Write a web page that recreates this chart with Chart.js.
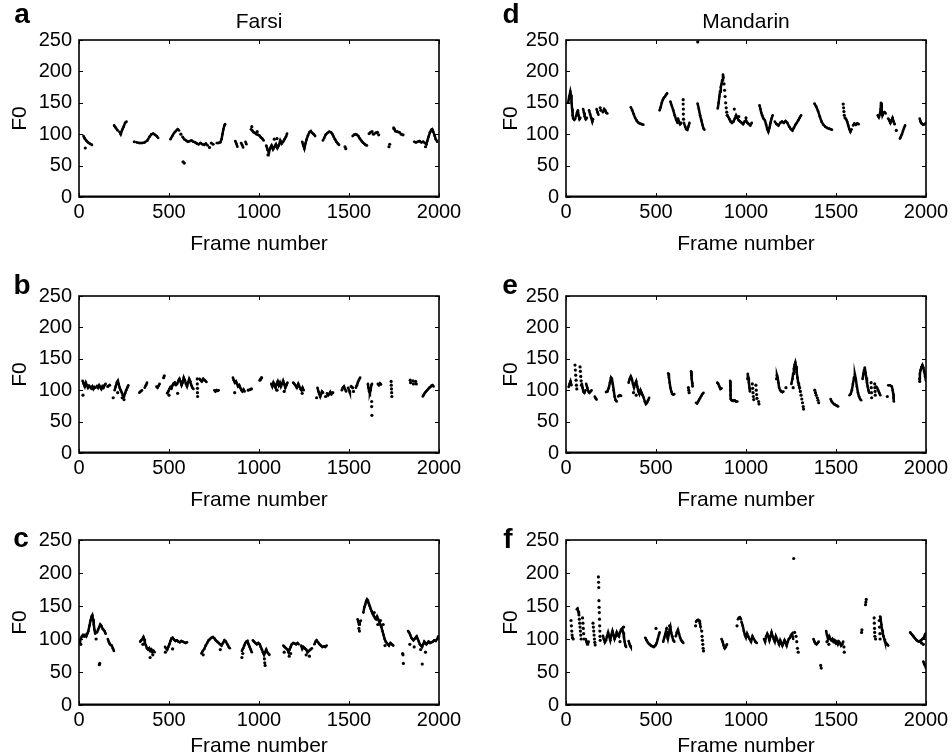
<!DOCTYPE html>
<html>
<head>
<meta charset="utf-8">
<script src="https://cdn.jsdelivr.net/npm/chart.js@4.4.1/dist/chart.umd.min.js"></script>
<style>
  body { margin: 0; background: #fff; }
  #fig { position: relative; width: 952px; height: 755px; overflow: hidden; background: #fff;
         font-family: "Liberation Sans", Arial, sans-serif; color: #000; }
  .panel { position: absolute; }
  .letter { position: absolute; font-weight: bold; font-size: 28px; line-height: 1; transform: translateX(-50%); }
  .lang { position: absolute; font-size: 21px; line-height: 1; transform: translateX(-50%); }
</style>
</head>
<body>
<div id="fig"></div>
<script>
// F0 tracks: each inner list is one voiced stretch [frame, F0]
const xTicks = [0, 500, 1000, 1500, 2000];
const yTicks = [0, 50, 100, 150, 200, 250];
const unvoicedFrames = [0, 2000]; // frames with F0 = 0 run along the bottom

const farsiATracks = [
  [[25,97],[32,93],[40,90],[50,87],[60,85],[72,83]],
  [[195,114],[205,110],[215,106]],
  [[225,104],[232,100],[240,107],[248,112],[256,118],[264,120]],
  [[320,87],[335,86],[350,86],[365,87],[380,90],[392,96],[402,100],[412,101],[422,99],[432,97],[440,94]],
  [[508,92],[518,97],[528,102],[538,105],[548,108],[556,106]],
  [[575,96],[585,92],[595,90],[605,88],[615,89],[625,90],[635,88],[645,87],[655,85],[665,84],[675,86],[685,84],[695,83],[705,85],[715,82]],
  [[765,86],[775,86],[785,87],[792,92],[797,100],[802,108],[808,114],[812,116]],
  [[868,89],[874,85],[880,80]],
  [[900,86],[906,83],[912,79]],
  [[925,88],[930,84]],
  [[955,108],[962,106],[970,103],[978,102],[986,100],[994,99],[1002,98],[1010,95],[1018,93],[1026,90]],
  [[1040,82],[1048,75],[1055,70],[1062,78],[1070,82],[1078,76],[1086,80],[1094,84],[1102,78],[1110,82],[1118,90],[1126,85],[1134,88],[1142,92],[1150,96],[1156,101]],
  [[1240,88],[1246,82],[1252,77],[1258,85],[1265,92],[1272,98],[1280,103],[1288,105],[1296,102],[1304,100],[1312,97]],
  [[1355,90],[1362,94],[1370,99],[1380,102],[1390,104],[1400,103],[1408,100],[1415,96],[1422,92],[1430,88],[1438,85],[1445,83]],
  [[1520,97],[1528,99],[1536,100],[1544,99],[1552,97],[1560,93],[1568,90],[1576,87],[1584,85],[1592,83],[1600,82]],
  [[1862,88],[1872,87],[1882,88],[1892,89],[1902,87],[1912,88],[1922,86],[1930,84],[1936,90],[1942,96],[1950,103],[1957,107],[1962,108],[1968,104],[1975,98],[1982,92],[1990,88]]
];
const farsiADots = [[35,78],[307,88],[566,100],[578,56],[585,54],[725,79],[735,86],[745,84],[960,112],[990,104],[1050,67],[1100,93],[1085,92],[1478,80],[1482,77],[1612,101],[1620,103],[1628,104],[1636,100],[1648,102],[1658,103],[1665,99],[1722,80],[1726,84],[1748,110],[1752,108],[1758,105],[1768,104],[1780,103],[1790,100],[1800,99],[1925,80]];

const farsiBTracks = [
  [[20,115],[26,110],[32,106],[38,112],[44,108],[50,104],[56,107],[62,105],[68,103],[74,106],[80,102],[86,105],[92,104]],
  [[100,107],[106,104],[112,108],[118,105],[124,102],[130,106],[136,104],[142,108],[148,110]],
  [[198,100],[204,106],[210,112],[216,115],[220,110],[226,104],[232,100],[238,96],[244,92],[250,90],[256,95],[262,100],[268,104],[274,108]],
  [[335,96],[342,98],[350,100]],
  [[365,104],[372,108],[378,112]],
  [[430,106],[436,104],[442,107],[448,110]],
  [[490,95],[496,98],[502,102],[508,105],[514,103],[520,108],[526,111],[532,112],[538,108]],
  [[545,110],[552,115],[558,118],[564,114],[570,108],[576,112],[582,120],[588,116],[594,110],[600,106],[606,112],[612,118],[618,114],[624,108],[630,104],[636,102]],
  [[670,118],[676,116],[682,114],[690,118],[696,116],[702,115],[708,113]],
  [[752,100],[758,98],[764,100],[770,99],[776,100]],
  [[855,120],[860,116],[866,112],[872,114],[878,110],[884,106],[890,108],[896,104],[902,100],[908,98],[914,101],[920,98]],
  [[1068,110],[1074,106],[1080,112],[1086,108],[1092,104],[1098,110],[1104,114],[1110,108],[1116,112],[1122,106],[1128,110],[1134,115],[1140,110],[1146,104],[1152,108],[1158,112]],
  [[1190,112],[1196,110],[1202,108],[1210,104],[1218,110],[1224,106],[1230,102],[1236,100],[1242,104],[1248,100]],
  [[1325,104],[1330,98],[1335,94],[1340,90],[1345,94],[1350,98],[1356,96]],
  [[1378,95],[1384,92],[1390,94],[1396,97],[1402,93]],
  [[1460,100],[1466,104],[1472,106],[1478,102],[1484,98]],
  [[1495,104],[1500,100],[1505,96]],
  [[1538,104],[1544,108],[1550,113],[1556,117],[1562,120]],
  [[1605,110],[1608,104],[1612,98],[1616,96],[1620,100],[1624,108],[1628,110]],
  [[1660,110],[1666,108],[1672,111],[1678,109]],
  [[1910,90],[1916,93],[1922,96],[1928,98],[1934,100],[1940,102],[1946,104],[1952,105],[1958,107],[1964,108],[1970,106]]
];
const farsiBDots = [[22,92],[160,106],[170,108],[190,88],[215,96],[240,88],[250,85],[470,120],[474,123],[500,92],[548,95],[657,118],[657,110],[658,103],[658,96],[659,90],[865,96],[940,100],[950,101],[958,102],[1005,116],[1010,118],[1014,120],[1100,100],[1140,98],[1240,95],[1320,88],[1370,90],[1410,96],[1512,106],[1520,104],[1525,98],[1626,82],[1626,74],[1627,60],[1734,114],[1735,108],[1736,102],[1737,96],[1738,90],[1840,116],[1842,112],[1855,115],[1858,110],[1870,114],[1874,110]];

const farsiCTracks = [
  [[5,95],[10,100],[16,104],[22,106],[28,104],[34,106],[40,104],[46,108],[52,112],[58,120],[64,128],[70,134],[74,136],[78,130],[82,122],[86,114],[90,108]],
  [[100,110],[106,114],[112,118],[118,122],[124,120],[130,116],[136,114],[142,112],[148,108]],
  [[160,100],[165,96],[170,93],[176,91],[182,90],[188,86],[194,82]],
  [[340,96],[346,98],[352,100],[358,103],[362,100],[366,94],[372,90],[378,86],[384,84],[390,86],[396,82],[402,84],[408,80],[414,82],[420,80]],
  [[478,88],[484,86],[490,84],[496,88],[502,92],[508,97],[514,101],[520,102],[528,99],[536,97],[544,98],[552,96],[560,95],[568,97],[576,96],[584,95],[592,94],[600,95]],
  [[680,78],[688,82],[696,85],[704,90],[712,94],[720,98],[728,100],[736,102],[744,103],[752,101],[760,98],[768,96],[776,94],[784,92],[792,90],[800,94],[808,98],[816,96],[824,92],[832,88],[838,86]],
  [[905,82],[912,86],[918,90],[924,94],[930,96],[936,97],[942,92],[948,88],[954,84],[960,80]],
  [[966,98],[972,96],[980,94],[988,92],[996,94],[1004,92],[1010,88],[1016,84],[1022,80],[1028,76],[1034,80],[1040,84],[1046,80],[1052,78],[1058,76]],
  [[1135,90],[1142,88],[1150,86],[1158,84],[1164,80],[1170,84],[1176,88],[1182,92],[1190,94],[1198,93],[1206,92],[1214,94],[1220,92]],
  [[1234,90],[1240,85],[1246,88],[1254,86],[1262,84],[1270,80],[1278,82],[1286,84],[1294,86]],
  [[1308,92],[1314,96],[1320,98],[1328,95],[1336,92],[1344,90],[1352,88],[1360,89],[1368,88],[1376,90]],
  [[1548,130],[1552,126],[1556,122],[1560,126],[1566,128]],
  [[1580,140],[1585,148],[1590,152],[1595,157],[1600,160],[1605,158],[1610,154],[1615,150],[1620,146],[1626,142],[1632,138],[1638,135],[1644,132],[1650,130],[1656,134],[1662,130],[1668,126],[1674,122],[1680,118],[1686,112],[1692,106],[1698,100],[1704,96],[1710,94],[1716,92],[1722,90],[1730,94],[1738,92],[1746,90]],
  [[1828,112],[1834,110],[1840,106],[1846,102],[1852,100],[1858,98],[1864,100],[1870,102],[1876,104],[1882,100],[1888,96],[1894,92],[1900,90],[1906,88],[1912,92],[1918,96],[1924,94],[1930,92],[1936,94],[1942,96],[1950,94],[1958,95],[1966,96],[1974,98],[1982,97],[1990,100],[1996,104]]
];
const farsiCDots = [[10,92],[95,100],[113,61],[115,63],[355,92],[395,72],[410,76],[480,80],[520,85],[690,76],[785,84],[905,72],[910,78],[1030,70],[1032,64],[1034,60],[1140,80],[1168,74],[1176,78],[1262,76],[1280,74],[1555,116],[1558,112],[1640,140],[1660,122],[1675,128],[1690,122],[1700,90],[1798,78],[1800,76],[1802,63],[1838,92],[1862,88],[1898,84],[1907,62],[1925,80]];

const mandarinATracks = [
  [[12,150],[18,160],[24,168],[28,162],[31,150],[34,140],[37,130],[40,125],[46,123],[52,125]],
  [[55,128],[62,135],[66,138],[70,130],[75,124],[80,126]],
  [[95,140],[100,134],[104,128],[110,124],[116,126]],
  [[128,138],[134,132],[140,126],[146,120],[150,124]],
  [[170,140],[175,135],[180,131]],
  [[205,135],[212,140],[218,138],[224,134],[230,133]],
  [[360,143],[368,138],[376,132],[384,126],[392,122],[400,119],[410,117],[420,116],[430,115]],
  [[520,138],[526,143],[532,150],[538,155],[544,158],[550,160],[556,163],[562,165]],
  [[580,152],[588,145],[596,138],[604,130],[612,123],[620,118]],
  [[622,125],[628,120],[634,116],[640,118]],
  [[655,118],[662,112],[668,108],[674,107],[680,112],[686,118]],
  [[731,149],[738,140],[745,130],[752,122],[758,115],[764,109],[769,107]],
  [[843,141],[848,150],[852,160],[856,168],[860,175],[864,180],[868,186],[872,195],[875,190]],
  [[900,128],[908,124],[915,120],[922,118],[930,120],[938,125],[945,130],[952,126],[960,122],[968,120],[976,118],[984,116],[992,120],[1000,122],[1008,118],[1016,116],[1024,114],[1032,118]],
  [[1075,146],[1080,140],[1085,134],[1090,130],[1095,126],[1100,124]],
  [[1105,122],[1112,115],[1118,108],[1124,104],[1130,110],[1136,118],[1142,125],[1148,130]],
  [[1160,120],[1170,116],[1180,114],[1190,118],[1200,120],[1210,118],[1220,121],[1230,118],[1240,112],[1250,108],[1258,106],[1266,110],[1274,115],[1282,118],[1290,122],[1298,126],[1306,130]],
  [[1380,149],[1390,144],[1400,137],[1410,128],[1420,120],[1430,115],[1440,112],[1450,110],[1460,109],[1470,108],[1478,107]],
  [[1556,124],[1562,120],[1568,114],[1574,108],[1580,104],[1586,108]],
  [[1595,114],[1602,117],[1610,115],[1618,117],[1626,116]],
  [[1732,130],[1738,127],[1744,132],[1748,140],[1750,150],[1754,138],[1758,130],[1764,134],[1770,135],[1776,133]],
  [[1790,125],[1796,122],[1802,118],[1808,122],[1814,126],[1820,120],[1826,116]],
  [[1855,93],[1860,96],[1866,100],[1872,105],[1878,110],[1884,114]],
  [[1965,125],[1970,120],[1976,117],[1984,115],[1992,116],[2000,118]]
];
const mandarinADots = [[190,142],[194,138],[732,247],[651,155],[651,148],[652,140],[652,132],[653,124],[878,180],[881,170],[884,160],[887,150],[890,142],[893,135],[896,130],[935,140],[960,128],[1000,126],[1540,148],[1542,142],[1544,136],[1546,130],[1550,126],[1835,106]];

const mandarinBTracks = [
  [[15,105],[20,110],[25,114],[30,108]],
  [[88,110],[92,104],[96,98],[102,96],[108,100]],
  [[112,110],[118,104],[124,98],[130,96],[136,98],[142,100]],
  [[160,90],[165,87],[170,85]],
  [[222,97],[230,98],[238,104],[244,112],[250,120],[255,118],[260,110],[265,100],[270,90],[276,84],[282,82]],
  [[290,90],[298,92],[306,91]],
  [[348,112],[354,118],[360,122],[366,118],[372,110],[378,104],[384,110],[390,114],[396,106],[402,98],[408,94],[414,100],[420,96],[426,92],[432,88],[438,82],[444,78],[450,80],[456,84],[462,88]],
  [[568,127],[572,120],[576,112],[580,104],[585,98],[590,94],[596,93],[602,94]],
  [[695,130],[697,124],[699,118],[701,112],[703,106]],
  [[722,80],[728,79],[734,82],[740,85],[746,88],[752,91],[758,94],[764,96]],
  [[840,112],[846,110],[852,106],[858,102],[864,103]],
  [[912,115],[913,108],[914,100],[915,92],[916,86],[920,84],[928,83],[936,84],[944,82],[952,82]],
  [[1008,118],[1010,126],[1013,120],[1016,112],[1019,104],[1022,98]],
  [[1168,118],[1172,124],[1176,120],[1180,112],[1184,104],[1190,100],[1196,98],[1202,97],[1208,98]],
  [[1252,110],[1258,118],[1262,126],[1266,134],[1270,140],[1274,144],[1278,138],[1282,128],[1286,120],[1290,112],[1294,108]],
  [[1470,86],[1476,82],[1482,80],[1488,78],[1494,77],[1500,76],[1506,75],[1512,74]],
  [[1575,92],[1582,94],[1588,100],[1594,110],[1600,120],[1605,125],[1610,118],[1616,106],[1622,96],[1628,90],[1634,86],[1640,84]],
  [[1648,118],[1652,126],[1656,132],[1660,136],[1664,128],[1668,120],[1672,112],[1676,106],[1680,100],[1684,96]],
  [[1722,106],[1728,104],[1734,100],[1740,96],[1746,92]],
  [[1790,108],[1800,108],[1810,106],[1815,100],[1818,94],[1820,88],[1822,82]],
  [[1962,118],[1966,126],[1970,132],[1975,137],[1980,140],[1985,136],[1990,130],[1995,122],[2000,115]]
];
const mandarinBDots = [[50,140],[52,132],[54,124],[56,116],[58,108],[60,102],[78,137],[80,130],[82,122],[84,115],[86,108],[375,96],[390,92],[680,104],[682,100],[684,96],[1035,110],[1037,103],[1039,96],[1041,90],[1043,85],[1055,108],[1057,100],[1059,93],[1061,87],[1070,82],[1072,78],[1222,104],[1262,104],[1298,104],[1302,98],[1306,92],[1310,86],[1314,80],[1318,74],[1320,70],[1382,100],[1386,96],[1390,92],[1396,88],[1400,84],[1404,80],[1695,112],[1696,104],[1697,96],[1698,88],[1715,110],[1716,104],[1717,98],[1718,92],[1785,90],[1965,114]];

const mandarinCTracks = [
  [[60,145],[64,146],[68,142],[72,136]],
  [[110,100],[114,96],[118,92],[122,94],[126,96]],
  [[205,105],[210,100],[216,95],[222,98],[228,104],[234,110],[240,104],[246,98],[252,106],[258,112],[264,106],[270,100],[276,104],[282,110],[288,106],[294,104],[300,110],[306,114],[312,116],[318,110],[322,102],[326,96],[330,90],[334,88]],
  [[348,97],[352,93],[356,90],[360,88]],
  [[440,102],[448,98],[456,94],[464,92],[472,90],[480,89],[488,88],[496,90],[504,94],[510,100],[516,106],[520,110]],
  [[540,96],[546,102],[552,108],[556,112],[560,106],[566,100],[572,108],[576,114],[580,118],[584,110],[590,104],[596,98],[602,96]],
  [[610,104],[616,110],[622,114],[628,108],[634,102],[640,98],[646,96],[652,94]],
  [[722,126],[728,128],[734,129],[740,128],[744,124],[748,118]],
  [[864,100],[870,96],[876,90],[882,86],[888,88],[894,92]],
  [[955,130],[960,132],[966,133],[972,130]],
  [[975,126],[982,120],[988,112],[994,106],[1000,102],[1006,108],[1012,104],[1020,100],[1028,96],[1036,104],[1044,100],[1052,96],[1060,94]],
  [[1100,100],[1106,96],[1112,104],[1118,108],[1124,104],[1130,98],[1136,104],[1142,110],[1148,104],[1154,100],[1160,96],[1166,104],[1172,100],[1178,96],[1184,92],[1190,98],[1196,94],[1202,90],[1208,94],[1214,98],[1220,94],[1226,90],[1232,96],[1238,100],[1244,102],[1250,106],[1256,108],[1262,100]],
  [[1375,100],[1380,96],[1386,93],[1392,92],[1398,94],[1404,96]],
  [[1445,112],[1450,106],[1456,100],[1462,104],[1468,100],[1474,98],[1480,100],[1486,96],[1492,98],[1498,94],[1504,96],[1510,92],[1516,96],[1522,94],[1528,90],[1534,92],[1540,96]],
  [[1745,134],[1748,130],[1752,122],[1756,114],[1760,108],[1764,104],[1768,100],[1772,96],[1778,94],[1784,92],[1790,90]],
  [[1912,110],[1918,108],[1924,106],[1930,104],[1936,102],[1942,100],[1948,98],[1954,97],[1960,96],[1966,97],[1972,98],[1980,100],[1988,102],[1996,108]],
  [[1985,66],[1990,62],[1995,60],[2000,56]]
];
const mandarinCDots = [[28,128],[30,120],[32,112],[34,106],[36,102],[40,100],[74,130],[76,124],[78,118],[80,112],[82,106],[84,100],[92,132],[94,124],[96,116],[98,108],[100,100],[150,124],[152,118],[154,112],[156,106],[158,100],[160,95],[162,91],[180,194],[181,186],[182,178],[183,158],[184,148],[185,140],[186,130],[187,120],[188,112],[189,104],[190,98],[300,96],[320,118],[500,116],[560,116],[575,120],[720,120],[754,112],[756,104],[758,98],[760,92],[762,86],[764,82],[950,120],[1265,222],[1270,110],[1278,104],[1282,96],[1286,86],[1290,80],[1415,60],[1418,56],[1450,96],[1460,92],[1544,88],[1546,80],[1642,110],[1644,114],[1664,152],[1666,156],[1668,160],[1712,132],[1713,124],[1714,116],[1715,110],[1716,104],[1720,100],[1740,128],[1742,118],[1744,108],[1745,100],[1975,94],[1985,92]];

// panel placement (page pixels of each plot box)
const panels = [
  { letter: "a", title: "Farsi",    tracks: farsiATracks,    dots: farsiADots,    left: 79,  top: 40,  bottom: 197, axisW: 71, xAxisH: 60, letterX: 22,  letterBase: 24 },
  { letter: "b", title: null,       tracks: farsiBTracks,    dots: farsiBDots,    left: 79,  top: 296, bottom: 453, axisW: 71, xAxisH: 60, letterX: 22,  letterBase: 295 },
  { letter: "c", title: null,       tracks: farsiCTracks,    dots: farsiCDots,    left: 79,  top: 540, bottom: 705, axisW: 71, xAxisH: 54, letterX: 21,  letterBase: 548 },
  { letter: "d", title: "Mandarin", tracks: mandarinATracks, dots: mandarinADots, left: 566, top: 40,  bottom: 197, axisW: 67, xAxisH: 60, letterX: 511, letterBase: 24 },
  { letter: "e", title: null,       tracks: mandarinBTracks, dots: mandarinBDots, left: 566, top: 296, bottom: 453, axisW: 67, xAxisH: 60, letterX: 510, letterBase: 295 },
  { letter: "f", title: null,       tracks: mandarinCTracks, dots: mandarinCDots, left: 566, top: 540, bottom: 705, axisW: 67, xAxisH: 54, letterX: 508, letterBase: 549 }
];

Chart.defaults.font.family = "'Liberation Sans', Arial, sans-serif";
Chart.defaults.color = "#000";

const PLOT_W = 360, PAD_TOP = 20, PAD_RIGHT = 30;

function flattenTracks(tracks) {
  const out = [];
  tracks.forEach((seg) => {
    seg.forEach(([x, y]) => out.push({ x, y }));
    out.push({ x: seg[seg.length - 1][0] + 0.5, y: null }); // break between voiced stretches
  });
  return out;
}

// MATLAB-like box with inward tick marks on all four sides
const boxPlugin = {
  id: "matlabBox",
  afterDraw(chart) {
    const { ctx, chartArea: a, scales } = chart;
    ctx.save();
    ctx.strokeStyle = "#000";
    ctx.lineWidth = 1;
    ctx.beginPath();
    scales.x.ticks.forEach((t) => {
      const px = Math.round(scales.x.getPixelForValue(t.value)) + 0.5;
      ctx.moveTo(px, a.bottom); ctx.lineTo(px, a.bottom - 4);
      ctx.moveTo(px, a.top); ctx.lineTo(px, a.top + 4);
    });
    scales.y.ticks.forEach((t) => {
      const py = Math.round(scales.y.getPixelForValue(t.value)) + 0.5;
      ctx.moveTo(a.left, py); ctx.lineTo(a.left + 4, py);
      ctx.moveTo(a.right, py); ctx.lineTo(a.right - 4, py);
    });
    ctx.stroke();
    ctx.lineWidth = 1.6;
    ctx.strokeRect(a.left, a.top, a.right - a.left, a.bottom - a.top);
    ctx.restore();
  }
};

const fig = document.getElementById("fig");

panels.forEach((p) => {
  const plotH = p.bottom - p.top;
  const cw = p.axisW + PLOT_W + PAD_RIGHT;
  const ch = PAD_TOP + plotH + p.xAxisH;

  const wrap = document.createElement("div");
  wrap.className = "panel";
  wrap.style.left = (p.left - p.axisW) + "px";
  wrap.style.top = (p.top - PAD_TOP) + "px";
  const canvas = document.createElement("canvas");
  canvas.width = cw;
  canvas.height = ch;
  canvas.style.width = cw + "px";
  canvas.style.height = ch + "px";
  wrap.appendChild(canvas);
  fig.appendChild(wrap);

  const letter = document.createElement("div");
  letter.className = "letter";
  letter.textContent = p.letter;
  letter.style.left = p.letterX + "px";
  letter.style.top = (p.letterBase - 24) + "px";
  fig.appendChild(letter);

  if (p.title) {
    const t = document.createElement("div");
    t.className = "lang";
    t.textContent = p.title;
    t.style.left = (p.left + PLOT_W / 2) + "px";
    t.style.top = (28 - 18) + "px";
    fig.appendChild(t);
  }

  new Chart(canvas, {
    type: "scatter",
    data: {
      datasets: [
        {
          label: "unvoiced",
          data: unvoicedFrames.map((f) => ({ x: f, y: 0 })),
          showLine: true,
          borderColor: "#000",
          borderWidth: 3,
          pointRadius: 0,
        },
        {
          label: "voiced",
          data: flattenTracks(p.tracks),
          showLine: true,
          spanGaps: false,
          borderColor: "#000",
          backgroundColor: "#000",
          borderWidth: 2.5,
          pointRadius: 1.3,
          pointBorderWidth: 0,
        },
        {
          label: "isolated",
          data: p.dots.map(([x, y]) => ({ x, y })),
          showLine: false,
          backgroundColor: "#000",
          pointRadius: 1.6,
          pointBorderWidth: 0,
        },
      ],
    },
    options: {
      responsive: false,
      animation: false,
      events: [],
      layout: { padding: { left: 0, top: PAD_TOP, right: PAD_RIGHT, bottom: 0 } },
      plugins: { legend: { display: false }, tooltip: { enabled: false } },
      scales: {
        x: {
          type: "linear",
          min: xTicks[0],
          max: xTicks[xTicks.length - 1],
          afterBuildTicks: (s) => { s.ticks = xTicks.map((v) => ({ value: v })); },
          afterFit: (s) => { s.height = p.xAxisH; },
          grid: { display: false, drawTicks: false },
          border: { display: false },
          ticks: { padding: 3, maxRotation: 0, autoSkip: false, font: { size: 20 }, callback: (v) => String(v) },
          title: { display: true, text: "Frame number", font: { size: 21 }, padding: 0 },
        },
        y: {
          type: "linear",
          min: yTicks[0],
          max: yTicks[yTicks.length - 1],
          afterBuildTicks: (s) => { s.ticks = yTicks.map((v) => ({ value: v })); },
          afterFit: (s) => { s.width = p.axisW; },
          grid: { display: false, drawTicks: false },
          border: { display: false },
          ticks: { padding: 7, autoSkip: false, font: { size: 20 }, callback: (v) => String(v) },
          title: { display: true, text: "F0", font: { size: 21 }, padding: 0 },
        },
      },
    },
    plugins: [boxPlugin],
  });
});
</script>
</body>
</html>
